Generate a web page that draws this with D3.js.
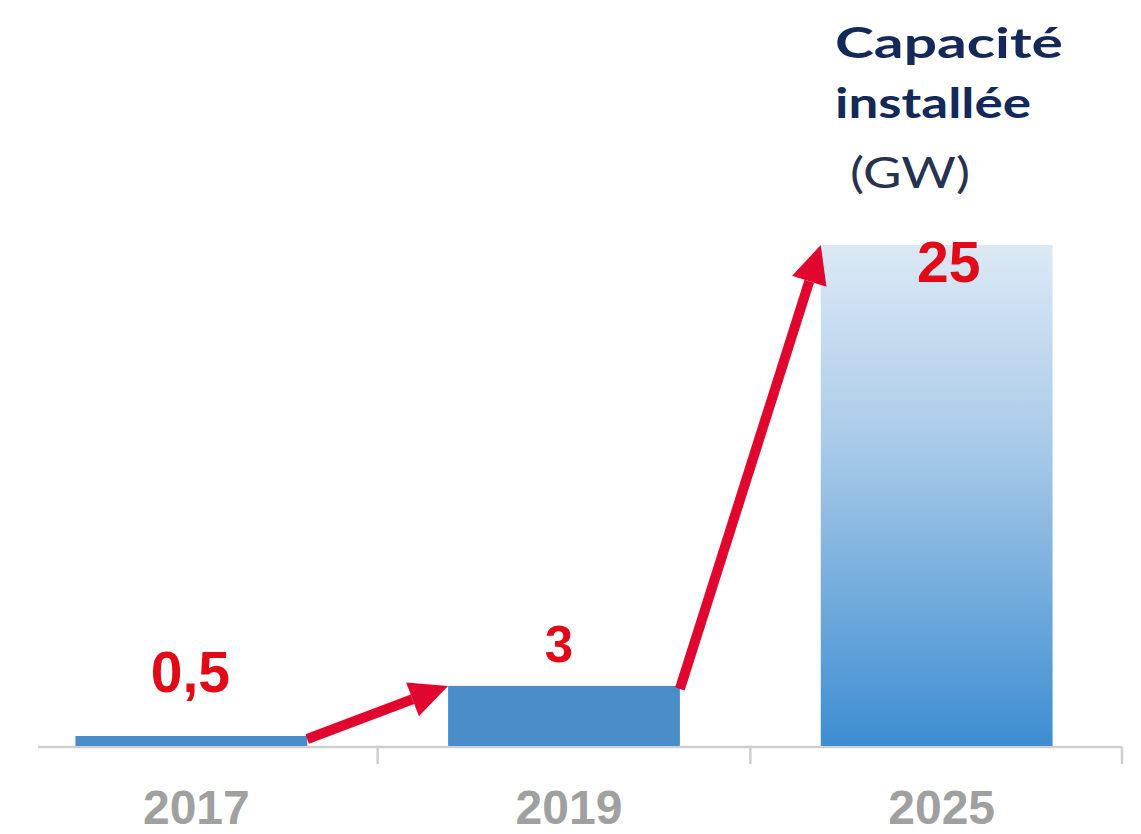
<!DOCTYPE html>
<html>
<head>
<meta charset="utf-8">
<script src="https://cdn.jsdelivr.net/npm/d3@7"></script>
<style>
  body { margin: 0; background: #fff; }
  svg { display: block; }
</style>
</head>
<body>
<div id="chart"></div>
<script>
// Installed capacity (GW)
const years = ["2017", "2019", "2025"];
const capacity = [0.5, 3, 25];
const valueLabels = ["0,5", "3", "25"];
const titleLines = ["Capacité", "installée"];
const unitLabel = "(GW)";

const W = 1141, H = 834;
const baseY = 746;

const svg = d3.select("#chart").append("svg")
    .attr("width", W)
    .attr("height", H);

// Scales
const x = d3.scaleBand().domain(years).range([5, 1123])
    .paddingInner(0.378).paddingOuter(0.189);
const y = d3.scaleLinear().domain([0, 25]).range([baseY, 245]);

// gradient for the tall bar
const defs = svg.append("defs");
const grad = defs.append("linearGradient")
    .attr("id", "barGrad")
    .attr("x1", 0).attr("y1", 0).attr("x2", 0).attr("y2", 1);
grad.append("stop").attr("offset", "0%").attr("stop-color", "#dce9f5");
grad.append("stop").attr("offset", "40%").attr("stop-color", "#a9cae8");
grad.append("stop").attr("offset", "100%").attr("stop-color", "#3d8dd1");

// axis line + ticks
const step = x.step();
svg.append("line")
    .attr("x1", 38).attr("x2", x.range()[1] - 1)
    .attr("y1", baseY + 1).attr("y2", baseY + 1)
    .attr("stroke", "#cfcfcf").attr("stroke-width", 2.5);

const tickPos = years.slice(0, -1).map(d => x(d) + x.bandwidth() + step * x.paddingInner() / 2);
tickPos.push(x.range()[1] - 1);
svg.selectAll(".tick").data(tickPos).enter().append("line")
    .attr("class", "tick")
    .attr("x1", d => d).attr("x2", d => d)
    .attr("y1", baseY + 1).attr("y2", baseY + 18)
    .attr("stroke", "#cfcfcf").attr("stroke-width", 2.5);

// bars
svg.selectAll("rect.bar").data(capacity).enter().append("rect")
    .attr("class", "bar")
    .attr("x", (d, i) => x(years[i]))
    .attr("y", d => y(d))
    .attr("width", x.bandwidth())
    .attr("height", d => baseY - y(d))
    .attr("fill", (d, i) => i === capacity.length - 1 ? "url(#barGrad)" : "#4a8dc8");

// red arrows between bar tops
const red = "#e0062e";
function arrow(x0, y0, x1, y1) {
  const ang = Math.atan2(y1 - y0, x1 - x0);
  const headLen = 38, headW = 18;
  const bx = x1 - headLen * Math.cos(ang), by = y1 - headLen * Math.sin(ang);
  svg.append("line")
      .attr("x1", x0).attr("y1", y0).attr("x2", bx).attr("y2", by)
      .attr("stroke", red).attr("stroke-width", 10);
  const nx = -Math.sin(ang), ny = Math.cos(ang);
  svg.append("polygon")
      .attr("points", [[x1, y1], [bx + nx * headW, by + ny * headW], [bx - nx * headW, by - ny * headW]].map(p => p.join(",")).join(" "))
      .attr("fill", red);
}
for (let i = 0; i < years.length - 1; i++) {
  arrow(x(years[i]) + x.bandwidth(), y(capacity[i]) + 3,
        x(years[i + 1]), y(capacity[i + 1]));
}

// value labels
const labelDx = [-1, -5, 12];
const labelDy = [-44, -24, 37];
const labelSize = [57, 51, 57];
svg.selectAll("text.val").data(valueLabels).enter().append("text")
    .attr("class", "val")
    .attr("x", (d, i) => x(years[i]) + x.bandwidth() / 2 + labelDx[i])
    .attr("y", (d, i) => y(capacity[i]) + labelDy[i])
    .attr("text-anchor", "middle")
    .attr("font-family", "Liberation Sans, Arial, sans-serif")
    .attr("font-weight", "bold")
    .attr("font-size", (d, i) => labelSize[i])
    .attr("fill", "#e20a16")
    .text(d => d);

// year labels
svg.selectAll("text.year").data(years).enter().append("text")
    .attr("class", "year")
    .attr("x", d => x(d) + x.bandwidth() / 2 + 5)
    .attr("y", 824)
    .attr("text-anchor", "middle")
    .attr("font-family", "Liberation Sans, Arial, sans-serif")
    .attr("font-weight", "bold")
    .attr("font-size", 48)
    .attr("fill", "#a0a0a0")
    .text(d => d);

// title
const titleX = 835;
svg.append("text")
    .attr("x", titleX).attr("y", 58)
    .attr("font-family", "Lato, 'Open Sans', sans-serif")
    .attr("font-weight", "bold").attr("font-size", 42)
    .attr("textLength", 228).attr("lengthAdjust", "spacingAndGlyphs")
    .attr("fill", "#14285a").text(titleLines[0]);
svg.append("text")
    .attr("x", titleX).attr("y", 118)
    .attr("font-family", "Lato, 'Open Sans', sans-serif")
    .attr("font-weight", "bold").attr("font-size", 42)
    .attr("textLength", 196).attr("lengthAdjust", "spacingAndGlyphs")
    .attr("fill", "#14285a").text(titleLines[1]);
svg.append("text")
    .attr("x", 850).attr("y", 188)
    .attr("font-family", "Lato, 'Open Sans', sans-serif")
    .attr("font-size", 42)
    .attr("textLength", 120).attr("lengthAdjust", "spacingAndGlyphs")
    .attr("fill", "#27324f").text(unitLabel);
</script>
</body>
</html>
